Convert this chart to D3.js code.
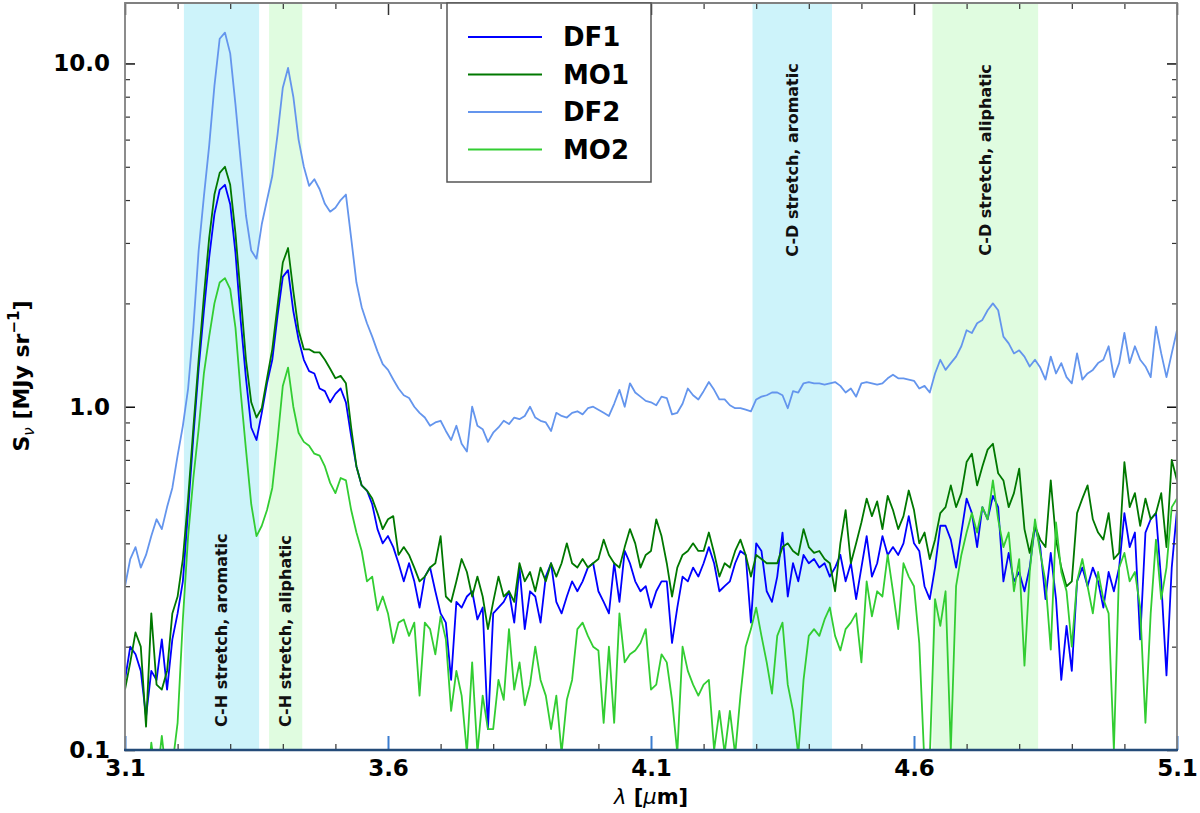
<!DOCTYPE html>
<html>
<head>
<meta charset="utf-8">
<script src="https://cdn.jsdelivr.net/npm/d3@7"></script>
<style>
  body { margin: 0; background: #fff; }
  #chart { width: 1200px; height: 813px; }
  text { font-family: "DejaVu Sans", sans-serif; }
</style>
</head>
<body>
<div id="chart"></div>
<script>
// Wavelength grid: 3.10 .. 5.10 um, step 0.01
const wlStart = 3.10;
const wlStep = 0.01;
const wlCount = 201;

const df1 = [
  0.16, 0.20, 0.19, 0.17, 0.125, 0.17, 0.16, 0.21, 0.15, 0.21,
  0.25, 0.31, 0.50, 0.82, 1.29, 1.9, 2.72, 3.64, 4.28, 4.43,
  3.89, 2.81, 1.78, 1.21, 0.87, 0.80, 0.96, 1.17, 1.37, 1.84,
  2.39, 2.5, 1.9, 1.57, 1.37, 1.27, 1.25, 1.13, 1.11, 1.03,
  1.09, 1.13, 1.03, 0.82, 0.67, 0.59, 0.57, 0.52, 0.44, 0.40,
  0.42, 0.39, 0.35, 0.31, 0.35, 0.31, 0.26, 0.32, 0.34, 0.29,
  0.25, 0.235, 0.16, 0.27, 0.26, 0.28, 0.29, 0.24, 0.26, 0.115,
  0.25, 0.26, 0.27, 0.29, 0.235, 0.34, 0.225, 0.29, 0.28, 0.235,
  0.32, 0.35, 0.27, 0.25, 0.28, 0.31, 0.29, 0.31, 0.34, 0.35,
  0.29, 0.27, 0.25, 0.35, 0.27, 0.38, 0.35, 0.31, 0.29, 0.30,
  0.26, 0.29, 0.31, 0.31, 0.205, 0.26, 0.32, 0.31, 0.34, 0.32,
  0.35, 0.39, 0.35, 0.29, 0.30, 0.31, 0.35, 0.38, 0.37, 0.235,
  0.40, 0.38, 0.29, 0.27, 0.32, 0.43, 0.28, 0.35, 0.31, 0.37,
  0.35, 0.36, 0.34, 0.35, 0.32, 0.34, 0.37, 0.31, 0.35, 0.275,
  0.34, 0.42, 0.32, 0.35, 0.42, 0.37, 0.39, 0.37, 0.40, 0.48,
  0.40, 0.38, 0.30, 0.275, 0.34, 0.45, 0.45, 0.41, 0.34, 0.43,
  0.54, 0.49, 0.39, 0.51, 0.47, 0.55, 0.51, 0.31, 0.375, 0.31,
  0.33, 0.29, 0.34, 0.45, 0.39, 0.275, 0.375, 0.275, 0.16, 0.23,
  0.17, 0.31, 0.34, 0.30, 0.34, 0.31, 0.26, 0.33, 0.29, 0.34,
  0.49, 0.39, 0.43, 0.21, 0.43, 0.47, 0.49, 0.31, 0.165, 0.34,
  0.50
];

const mo1 = [
  0.15, 0.18, 0.22, 0.20, 0.117, 0.25, 0.155, 0.15, 0.17, 0.25,
  0.28, 0.36, 0.54, 0.87, 1.37, 2.1, 3.1, 4.15, 4.8, 5.0,
  4.43, 3.2, 2.1, 1.37, 1.03, 0.93, 0.99, 1.21, 1.47, 1.97,
  2.63, 2.9, 2.17, 1.67, 1.47, 1.47, 1.44, 1.44, 1.37, 1.29,
  1.21, 1.23, 1.17, 0.87, 0.67, 0.59, 0.57, 0.54, 0.49, 0.44,
  0.47, 0.48, 0.37, 0.39, 0.37, 0.34, 0.31, 0.32, 0.34, 0.35,
  0.42, 0.28, 0.27, 0.31, 0.36, 0.33, 0.28, 0.32, 0.28, 0.225,
  0.27, 0.32, 0.28, 0.29, 0.27, 0.35, 0.31, 0.33, 0.29, 0.34,
  0.31, 0.35, 0.32, 0.35, 0.40, 0.35, 0.34, 0.36, 0.34, 0.35,
  0.36, 0.41, 0.37, 0.35, 0.34, 0.39, 0.44, 0.40, 0.34, 0.37,
  0.38, 0.47, 0.42, 0.35, 0.28, 0.34, 0.37, 0.38, 0.40, 0.38,
  0.38, 0.43, 0.375, 0.32, 0.35, 0.34, 0.38, 0.41, 0.37, 0.32,
  0.37, 0.36, 0.35, 0.35, 0.35, 0.39, 0.40, 0.38, 0.37, 0.44,
  0.39, 0.375, 0.38, 0.36, 0.35, 0.29, 0.40, 0.50, 0.35, 0.40,
  0.46, 0.54, 0.48, 0.53, 0.44, 0.55, 0.50, 0.44, 0.48, 0.57,
  0.50, 0.40, 0.43, 0.36, 0.41, 0.49, 0.51, 0.59, 0.51, 0.56,
  0.69, 0.73, 0.59, 0.67, 0.75, 0.78, 0.64, 0.61, 0.51, 0.56,
  0.66, 0.44, 0.375, 0.45, 0.41, 0.39, 0.61, 0.41, 0.34, 0.30,
  0.31, 0.49, 0.54, 0.59, 0.47, 0.43, 0.41, 0.49, 0.36, 0.375,
  0.69, 0.51, 0.56, 0.45, 0.54, 0.47, 0.49, 0.56, 0.39, 0.70,
  0.61
];

const df2 = [
  0.30, 0.36, 0.39, 0.34, 0.37, 0.42, 0.47, 0.44, 0.51, 0.58,
  0.72, 0.88, 1.13, 1.7, 2.85, 4.1, 5.75, 8.6, 11.8, 12.3,
  10.7, 7.6, 5.2, 3.6, 2.85, 2.7, 3.4, 4.0, 4.7, 6.2,
  8.5, 9.7, 8.0, 6.0, 5.0, 4.4, 4.6, 4.3, 3.9, 3.7,
  3.8, 4.0, 4.15, 3.1, 2.3, 1.95, 1.75, 1.6, 1.45, 1.33,
  1.28, 1.2, 1.13, 1.08, 1.06, 1.0, 0.96, 0.93, 0.88, 0.90,
  0.91, 0.85, 0.80, 0.88, 0.78, 0.74, 1.0, 0.88, 0.86, 0.79,
  0.84, 0.87, 0.91, 0.89, 0.93, 0.92, 0.94, 1.0, 0.93, 0.91,
  0.90, 0.85, 0.96, 0.94, 0.93, 0.96, 0.97, 0.95, 0.99, 1.0,
  0.98, 0.96, 0.94, 1.02, 1.12, 1.0, 1.17, 1.10, 1.07, 1.04,
  1.03, 1.01, 1.07, 1.06, 0.95, 0.96, 1.02, 1.13, 1.08, 1.05,
  1.11, 1.18, 1.12, 1.05, 1.05, 1.01, 0.99, 0.99, 0.98, 0.97,
  1.05, 1.07, 1.08, 1.10, 1.10, 1.08, 0.99, 1.11, 1.10, 1.17,
  1.18, 1.17, 1.17, 1.16, 1.17, 1.18, 1.15, 1.10, 1.13, 1.07,
  1.17, 1.18, 1.17, 1.16, 1.17, 1.21, 1.24, 1.21, 1.21, 1.20,
  1.19, 1.13, 1.15, 1.10, 1.25, 1.37, 1.28, 1.34, 1.40, 1.50,
  1.67, 1.64, 1.75, 1.79, 1.91, 2.0, 1.91, 1.60, 1.53, 1.43,
  1.46, 1.40, 1.31, 1.37, 1.30, 1.20, 1.40, 1.25, 1.34, 1.22,
  1.17, 1.43, 1.20, 1.25, 1.28, 1.34, 1.37, 1.50, 1.22, 1.34,
  1.64, 1.34, 1.50, 1.37, 1.31, 1.22, 1.71, 1.43, 1.22, 1.43,
  1.67
];

const mo2 = [
  0.06, 0.065, 0.07, 0.075, 0.07, 0.105, 0.08, 0.11, 0.08, 0.09,
  0.12, 0.24, 0.42, 0.62, 0.86, 1.25, 1.6, 2.0, 2.3, 2.37,
  2.2, 1.7, 1.1, 0.75, 0.52, 0.42, 0.45, 0.50, 0.58, 0.80,
  1.15, 1.3, 1.0, 0.84, 0.79, 0.77, 0.73, 0.72, 0.67, 0.60,
  0.56, 0.62, 0.61, 0.50, 0.43, 0.38, 0.31, 0.32, 0.255, 0.28,
  0.25, 0.205, 0.235, 0.24, 0.215, 0.235, 0.144, 0.235, 0.225, 0.19,
  0.245, 0.21, 0.13, 0.17, 0.144, 0.098, 0.18, 0.098, 0.144, 0.115,
  0.115, 0.16, 0.14, 0.225, 0.15, 0.18, 0.135, 0.155, 0.20, 0.16,
  0.144, 0.115, 0.144, 0.098, 0.14, 0.16, 0.225, 0.235, 0.215, 0.20,
  0.195, 0.12, 0.20, 0.12, 0.25, 0.18, 0.19, 0.195, 0.205, 0.225,
  0.15, 0.155, 0.19, 0.18, 0.14, 0.098, 0.20, 0.17, 0.155, 0.144,
  0.155, 0.16, 0.10, 0.13, 0.098, 0.13, 0.097, 0.144, 0.20, 0.225,
  0.26, 0.215, 0.18, 0.146, 0.215, 0.235, 0.155, 0.13, 0.097, 0.16,
  0.215, 0.225, 0.215, 0.24, 0.26, 0.215, 0.195, 0.225, 0.235, 0.25,
  0.18, 0.31, 0.245, 0.29, 0.28, 0.37, 0.29, 0.225, 0.35, 0.32,
  0.30, 0.205, 0.09, 0.095, 0.275, 0.23, 0.29, 0.10, 0.30, 0.37,
  0.43, 0.49, 0.43, 0.51, 0.47, 0.61, 0.47, 0.39, 0.43, 0.29,
  0.36, 0.176, 0.33, 0.47, 0.375, 0.31, 0.196, 0.46, 0.33, 0.29,
  0.20, 0.31, 0.36, 0.30, 0.25, 0.33, 0.275, 0.25, 0.10, 0.34,
  0.375, 0.31, 0.33, 0.26, 0.12, 0.25, 0.41, 0.275, 0.34, 0.51,
  0.54
];

const seriesNames = ['DF1', 'MO1', 'DF2', 'MO2'];
const seriesColors = ['#0000ff', '#007800', '#6495ed', '#32cd32'];

// Shaded feature bands [from, to] in um
const bandRanges = [[3.212, 3.355], [3.374, 3.437], [4.293, 4.444], [4.635, 4.836]];
const bandLabels = ['C-H stretch, aromatic', 'C-H stretch, aliphatic', 'C-D stretch, aromatic', 'C-D stretch, aliphatic'];
const bandColors = ['#cdf3fa', '#e0fce0', '#cdf3fa', '#e0fce0'];

// Ticks
const xMajor = [3.1, 3.6, 4.1, 4.6, 5.1];
const xTickLabels = ['3.1', '3.6', '4.1', '4.6', '5.1'];
const xMinor = [3.2, 3.3, 3.4, 3.5, 3.7, 3.8, 3.9, 4.0, 4.2, 4.3, 4.4, 4.5, 4.7, 4.8, 4.9, 5.0];
const yMajor = [0.1, 1, 10];
const yTickLabels = ['0.1', '1.0', '10.0'];
const yMinor = [0.2, 0.3, 0.4, 0.5, 0.6, 0.7, 0.8, 0.9, 2, 3, 4, 5, 6, 7, 8, 9];

// Plot frame
const plotLeft = 125;
const plotRight = 1177;
const plotTop = 3;
const plotBottom = 750;

let svg;
let x;
let y;

/**
 * Build the svg and scales
 */
function setupChart() {
  svg = d3.select('#chart')
    .append('svg')
    .attr('width', 1200)
    .attr('height', 813);

  x = d3.scaleLinear().domain([3.1, 5.1]).range([plotLeft, plotRight]);
  y = d3.scaleLog().domain([0.1, 15]).range([plotBottom, plotTop]);

  svg.append('defs')
    .append('clipPath')
    .attr('id', 'plot-clip')
    .append('rect')
    .attr('x', plotLeft)
    .attr('y', plotTop)
    .attr('width', plotRight - plotLeft)
    .attr('height', plotBottom - plotTop);
}

/**
 * Shaded bands with their rotated labels
 */
function drawBands() {
  const bands = bandRanges.map((r, i) => ({ from: r[0], to: r[1], label: bandLabels[i], color: bandColors[i], idx: i }));

  svg.append('g')
    .selectAll('rect')
    .data(bands)
    .enter()
    .append('rect')
    .attr('x', d => x(d.from))
    .attr('y', plotTop)
    .attr('width', d => x(d.to) - x(d.from))
    .attr('height', plotBottom - plotTop)
    .style('fill', d => d.color);

  // C-H labels sit at the bottom, C-D labels near the top
  svg.append('g')
    .selectAll('text')
    .data(bands)
    .enter()
    .append('text')
    .attr('transform', d => {
      const cx = x((d.from + d.to) / 2);
      const cy = d.idx < 2 ? plotBottom - 23 : 160;
      return `translate(${cx},${cy}) rotate(-90)`;
    })
    .attr('dy', '0.35em')
    .attr('text-anchor', d => d.idx < 2 ? 'start' : 'middle')
    .style('font-size', '16px')
    .style('font-weight', 'bold')
    .style('fill', '#111')
    .text(d => d.label);
}

/**
 * Spectra
 */
function drawLines() {
  const allSeries = [df1, mo1, df2, mo2];
  const line = d3.line()
    .x((d, i) => x(wlStart + i * wlStep))
    .y(d => y(d));

  svg.append('g')
    .attr('clip-path', 'url(#plot-clip)')
    .selectAll('path')
    .data(allSeries)
    .enter()
    .append('path')
    .attr('d', d => line(d))
    .style('fill', 'none')
    .style('stroke', (d, i) => seriesColors[i])
    .style('stroke-width', 1.8)
    .style('stroke-linejoin', 'round');
}

/**
 * Axes, ticks and frame
 */
function drawAxes() {
  const tickColor = '#333';

  function styleTicks(g, color, width) {
    g.select('.domain').remove();
    g.selectAll('.tick line').style('stroke', color).style('stroke-width', width);
  }

  // bottom
  svg.append('g')
    .attr('transform', `translate(0,${plotBottom})`)
    .call(d3.axisBottom(x).tickValues(xMinor).tickSize(-6).tickFormat(''))
    .call(g => styleTicks(g, tickColor, 1.2));
  svg.append('g')
    .attr('transform', `translate(0,${plotBottom})`)
    .call(d3.axisBottom(x).tickValues(xMajor).tickSize(-14).tickPadding(10).tickFormat((d, i) => xTickLabels[i]))
    .call(g => styleTicks(g, '#3b7dd0', 2))
    .call(g => g.selectAll('text')
      .style('font-family', '"DejaVu Sans", sans-serif')
      .style('font-size', '23px')
      .style('font-weight', 'bold')
      .style('fill', '#000'));

  // top
  svg.append('g')
    .attr('transform', `translate(0,${plotTop})`)
    .call(d3.axisTop(x).tickValues(xMinor).tickSize(-6).tickFormat(''))
    .call(g => styleTicks(g, tickColor, 1.2));
  svg.append('g')
    .attr('transform', `translate(0,${plotTop})`)
    .call(d3.axisTop(x).tickValues(xMajor).tickSize(-12).tickFormat(''))
    .call(g => styleTicks(g, tickColor, 1.5));

  // left
  svg.append('g')
    .attr('transform', `translate(${plotLeft},0)`)
    .call(d3.axisLeft(y).tickValues(yMinor).tickSize(-5).tickFormat(''))
    .call(g => styleTicks(g, tickColor, 1.2));
  svg.append('g')
    .attr('transform', `translate(${plotLeft},0)`)
    .call(d3.axisLeft(y).tickValues(yMajor).tickSize(-10).tickPadding(15).tickFormat((d, i) => yTickLabels[i]))
    .call(g => styleTicks(g, '#111', 1.5))
    .call(g => g.selectAll('text')
      .style('font-family', '"DejaVu Sans", sans-serif')
      .style('font-size', '23px')
      .style('font-weight', 'bold')
      .style('fill', '#000'));

  // right
  svg.append('g')
    .attr('transform', `translate(${plotRight},0)`)
    .call(d3.axisRight(y).tickValues(yMinor).tickSize(-5).tickFormat(''))
    .call(g => styleTicks(g, tickColor, 1.2));
  svg.append('g')
    .attr('transform', `translate(${plotRight},0)`)
    .call(d3.axisRight(y).tickValues(yMajor).tickSize(-10).tickFormat(''))
    .call(g => styleTicks(g, '#111', 1.5));

  // frame: grey on three sides, dark blue along the bottom
  const frame = svg.append('g');
  frame.append('path')
    .attr('d', `M${plotLeft},${plotBottom}V${plotTop}H${plotRight}V${plotBottom}`)
    .style('fill', 'none')
    .style('stroke', '#808080')
    .style('stroke-width', 1.8);
  frame.append('line')
    .attr('x1', plotLeft - 1)
    .attr('x2', plotRight + 1)
    .attr('y1', plotBottom)
    .attr('y2', plotBottom)
    .style('stroke', '#234a78')
    .style('stroke-width', 2.5);

  // x label
  const xl = svg.append('text')
    .attr('x', (plotLeft + plotRight) / 2)
    .attr('y', 804)
    .attr('text-anchor', 'middle')
    .style('font-size', '21px')
    .style('font-weight', 'bold');
  xl.append('tspan').style('font-style', 'italic').style('font-weight', 'normal').text('λ');
  xl.append('tspan').text(' [');
  xl.append('tspan').style('font-style', 'italic').style('font-weight', 'normal').text('μ');
  xl.append('tspan').text('m]');

  // y label
  const yl = svg.append('text')
    .attr('transform', `translate(29,${376}) rotate(-90)`)
    .attr('text-anchor', 'middle')
    .style('font-size', '22px')
    .style('font-weight', 'bold');
  yl.append('tspan').text('S');
  yl.append('tspan').attr('dy', 5).style('font-size', '15px').style('font-style', 'italic').style('font-weight', 'normal').text('ν');
  yl.append('tspan').attr('dy', -5).text(' [MJy sr');
  yl.append('tspan').attr('dy', -10).style('font-size', '15px').text('−1');
  yl.append('tspan').attr('dy', 10).text(']');
}

/**
 * Legend box
 */
function drawLegend() {
  const legend = svg.append('g');
  legend.append('rect')
    .attr('x', 447)
    .attr('y', plotTop)
    .attr('width', 204)
    .attr('height', 179)
    .style('fill', '#fff')
    .style('stroke', '#555')
    .style('stroke-width', 1.5);

  const rows = legend.selectAll('.legend-row')
    .data(seriesNames)
    .enter()
    .append('g')
    .attr('class', 'legend-row')
    .attr('transform', (d, i) => `translate(0,${37 + i * 37.5})`);

  rows.append('line')
    .attr('x1', 468)
    .attr('x2', 542)
    .style('stroke', (d, i) => seriesColors[i])
    .style('stroke-width', 2);

  rows.append('text')
    .attr('x', 563)
    .attr('dy', '0.36em')
    .style('font-size', '26px')
    .style('font-weight', 'bold')
    .style('fill', '#000')
    .text(d => d);
}

document.addEventListener('DOMContentLoaded', function() {
  setupChart();
  drawBands();
  drawLines();
  drawAxes();
  drawLegend();
});
</script>
</body>
</html>
